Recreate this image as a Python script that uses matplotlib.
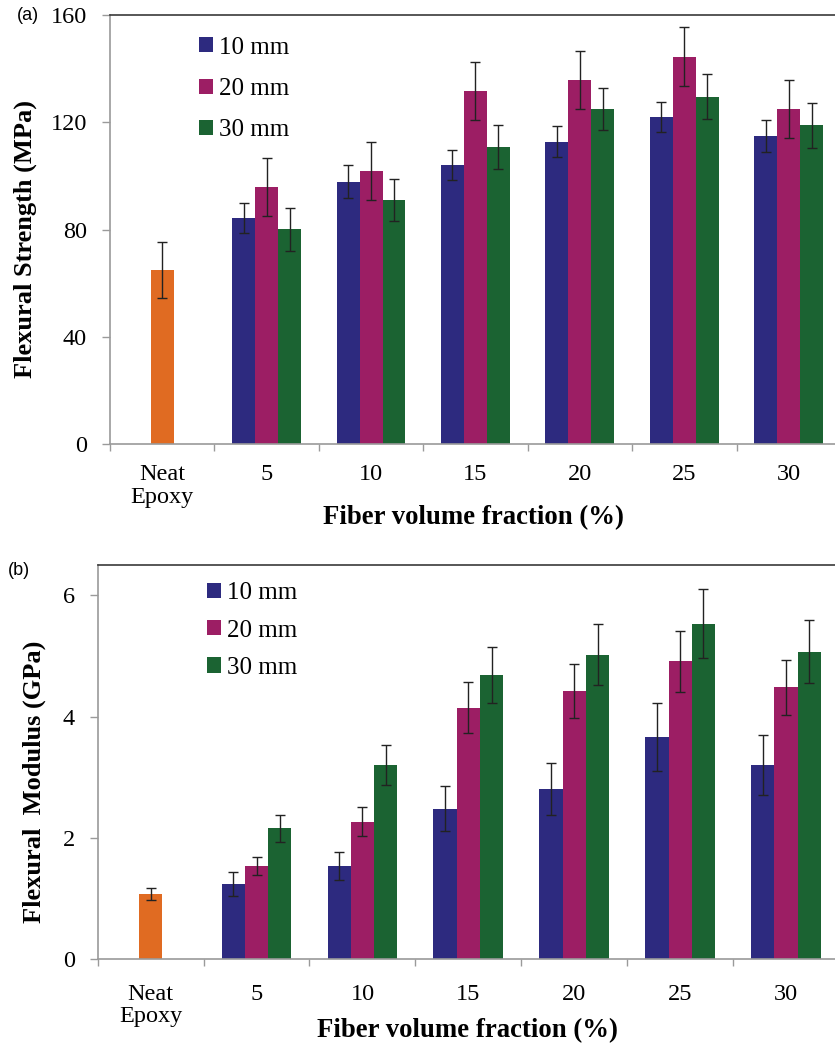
import matplotlib
matplotlib.use('Agg')
import matplotlib.pyplot as plt
import numpy as np

plt.rcParams.update({
    'font.family': ['Liberation Serif', 'DejaVu Serif'],
    'font.size': 17.5,
})

# categories and data
categories = ['Neat\nEpoxy', '5', '10', '15', '20', '25', '30']
series_names = ['10 mm', '20 mm', '30 mm']
colors = ['#2d2a7f', '#9c1e64', '#1b6332']
neat_color = '#e06b22'

# (a) flexural strength, MPa
neat_strength, neat_strength_err = 65.0, 10.5
strength_10 = [84.2, 97.9, 104.0, 112.8, 122.0, 114.8]
strength_20 = [95.8, 101.9, 131.8, 135.8, 144.5, 124.9]
strength_30 = [80.1, 91.0, 110.8, 124.9, 129.6, 118.8]
strength_10_err = [5.6, 6.0, 5.5, 5.9, 5.5, 6.0]
strength_20_err = [10.8, 10.8, 10.8, 10.8, 11.0, 10.8]
strength_30_err = [8.0, 7.9, 8.2, 7.9, 8.4, 8.3]

# (b) flexural modulus, GPa
neat_modulus, neat_modulus_err = 1.07, 0.10
modulus_10 = [1.24, 1.54, 2.48, 2.81, 3.67, 3.20]
modulus_20 = [1.54, 2.27, 4.15, 4.42, 4.91, 4.48]
modulus_30 = [2.16, 3.20, 4.68, 5.02, 5.53, 5.07]
modulus_10_err = [0.20, 0.23, 0.37, 0.43, 0.56, 0.49]
modulus_20_err = [0.15, 0.24, 0.42, 0.45, 0.50, 0.46]
modulus_30_err = [0.22, 0.33, 0.46, 0.50, 0.57, 0.52]

width = 0.22
err_kw = dict(ecolor='#222222', elinewidth=1.0, capsize=3.8, capthick=1.0)


def draw_panel(ax, neat, neat_err, series, errs, ylim, yticks, ylabel, tick_pad):
    x = np.arange(1, len(categories))
    ax.bar(0, neat, width, color=neat_color, yerr=neat_err, error_kw=err_kw, zorder=2)
    for i, (vals, e) in enumerate(zip(series, errs)):
        ax.bar(x + (i - 1) * width, vals, width, color=colors[i], yerr=e,
               error_kw=err_kw, label=series_names[i], zorder=2)
    ax.set_xlim(-0.5, len(categories) - 0.5)
    ax.set_ylim(*ylim)
    ax.set_yticks(yticks)
    ax.set_xticks(np.arange(len(categories)))
    ax.set_xticklabels(categories, linespacing=1.12)
    ax.set_xticks(np.arange(-0.5, len(categories) + 0.5), minor=True)
    ax.tick_params(axis='x', which='major', length=0, pad=tick_pad)
    ax.tick_params(axis='x', which='minor', length=5, width=1, color='#9a9a9a', direction='out')
    ax.tick_params(axis='y', length=6, width=1, color='#9a9a9a', direction='out', pad=10.5)
    ax.spines['right'].set_visible(False)
    ax.spines['top'].set_color('#3a3a3a')
    ax.spines['top'].set_linewidth(1.2)
    for s in ('left', 'bottom'):
        ax.spines[s].set_color('#9a9a9a')
        ax.spines[s].set_linewidth(1.2)
    ax.set_ylabel(ylabel, fontweight='bold', fontsize=19, va='center')
    ax.set_xlabel('Fiber volume fraction (%)', fontweight='bold', fontsize=19.3, va='center')


fig = plt.figure(figsize=(8.35, 10.48), dpi=100)
ax1 = fig.add_axes([0.1317, 0.5763, 0.8754, 0.4094])
ax2 = fig.add_axes([0.117, 0.0847, 0.8878, 0.3762])

draw_panel(ax1, neat_strength, neat_strength_err,
           [strength_10, strength_20, strength_30],
           [strength_10_err, strength_20_err, strength_30_err],
           (0, 160), [0, 40, 80, 120, 160], 'Flexural Strength (MPa)', 14.5)
draw_panel(ax2, neat_modulus, neat_modulus_err,
           [modulus_10, modulus_20, modulus_30],
           [modulus_10_err, modulus_20_err, modulus_30_err],
           (0, 6.5), [0, 2, 4, 6], 'Flexural  Modulus (GPa)', 17.5)

ax1.yaxis.set_label_coords(-0.116, 0.478)
ax1.xaxis.set_label_coords(0.497, -0.1725)
ax2.yaxis.set_label_coords(-0.085, 0.45)
ax2.xaxis.set_label_coords(0.499, -0.182)

ax1.legend(loc='upper left', bbox_to_anchor=(0.091, 1.002), frameon=False,
           handlelength=0.55, handleheight=0.55, handletextpad=0.25, labelspacing=0.77,
           fontsize=18)
ax2.legend(loc='upper left', bbox_to_anchor=(0.117, 1.013), frameon=False,
           handlelength=0.55, handleheight=0.55, handletextpad=0.25, labelspacing=0.61,
           fontsize=18)

fig.text(0.02, 0.985, '(a)', family='Liberation Sans', fontsize=13, va='center')
fig.text(0.01, 0.456, '(b)', family='Liberation Sans', fontsize=13, va='center')

fig.savefig('out.png', dpi=100)
